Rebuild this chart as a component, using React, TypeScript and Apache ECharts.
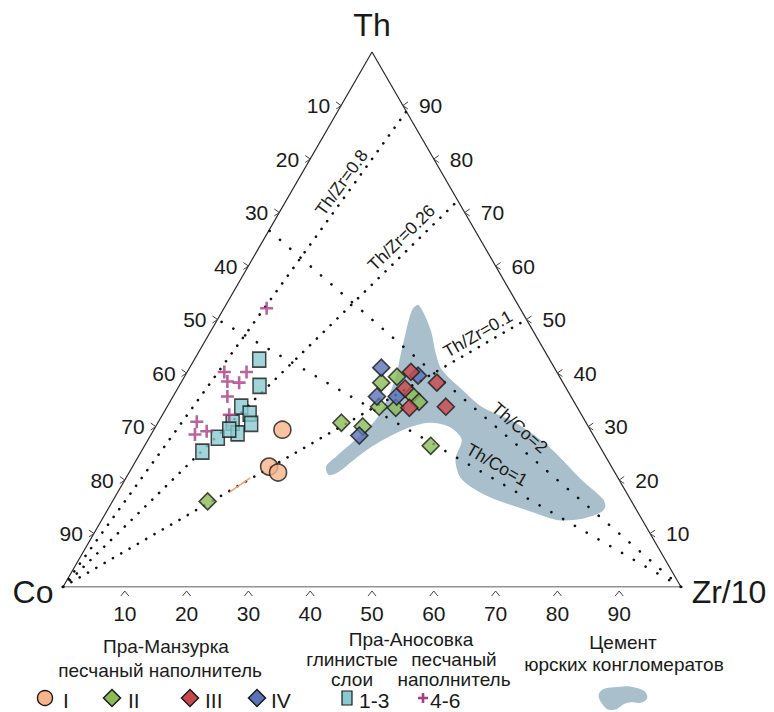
import React, { useEffect, useRef } from "react";
import * as echarts from "echarts";

// ---------- DATA (ternary, percent: [Co, Th, Zr/10]) ----------
// Пра-Манзурка, песчаный наполнитель
const groupI = [
  [49.8, 29.4, 20.8],
  [55.4, 22.5, 22.1],
  [54.5, 21.4, 24.1],
];
const groupII = [
  [68.6, 16.0, 15.4],
  [26.3, 39.3, 34.4],
  [29.4, 38.2, 32.4],
  [25.6, 35.9, 38.5],
  [25.1, 34.6, 40.3],
  [32.0, 33.7, 34.3],
  [29.4, 33.5, 37.1],
  [39.6, 30.7, 29.7],
  [36.5, 30.0, 33.5],
  [27.3, 26.4, 46.3],
];
const groupIII = [
  [23.6, 40.2, 36.2],
  [20.4, 38.2, 41.4],
  [26.1, 37.1, 36.8],
  [27.2, 33.5, 39.3],
  [21.2, 33.7, 45.1],
];
const groupIV = [
  [28.0, 41.0, 31.0],
  [22.8, 39.5, 37.7],
  [31.4, 35.6, 33.0],
  [28.2, 35.6, 36.2],
  [37.9, 28.3, 33.8],
];
// Пра-Аносовка: глинистые слои 1-3
const clayLayers = [
  [47.0, 42.5, 10.5],
  [49.4, 37.6, 13.0],
  [54.3, 33.7, 12.0],
  [53.6, 32.4, 14.0],
  [54.3, 30.5, 15.2],
  [57.2, 30.7, 12.1],
  [57.4, 28.7, 13.9],
  [61.0, 27.9, 11.1],
  [64.8, 25.3, 9.9],
  [58.4, 29.4, 12.2],
];
// Пра-Аносовка: песчаный наполнитель 4-6
const sandFill = [
  [41.0, 52.1, 6.9],
  [53.8, 40.2, 6.0],
  [50.2, 40.2, 9.6],
  [54.2, 38.4, 7.4],
  [52.4, 38.2, 9.4],
  [55.6, 35.6, 8.8],
  [57.0, 32.2, 10.8],
  [62.9, 30.9, 6.2],
  [64.4, 28.5, 7.1],
  [62.2, 29.1, 8.7],
];
// short orange trace on the Th/Zr=0.1 line
const orangeTrace = [
  [64.1, 17.8, 18.1],
  [59.5, 20.4, 20.1],
];
// Цемент юрских конгломератов: outline as [Th, Zr/10]
const cementOutline = [
  [52.7, 31.2], [48.0, 35.5], [43.8, 38.4], [40.6, 41.0], [36.9, 46.1],
  [33.7, 50.9], [30.7, 57.9], [26.3, 65.4], [20.1, 73.8], [16.4, 79.2],
  [15.1, 80.2], [14.0, 80.1], [12.7, 77.5], [12.5, 73.9], [13.8, 69.6],
  [16.9, 60.4], [20.1, 54.5], [23.8, 51.6], [27.6, 50.7], [30.0, 47.4],
  [30.7, 43.9], [29.8, 41.1], [28.1, 38.7], [26.3, 36.9], [23.8, 35.2],
  [21.6, 33.9], [20.9, 32.6], [22.5, 31.3], [24.4, 32.0], [27.6, 33.6],
  [31.3, 35.0], [35.0, 34.9], [39.3, 34.2], [43.8, 32.8], [47.5, 31.7],
  [51.8, 30.6],
];
const thZrRatios = [0.8, 0.26, 0.1];
const thCoRatios = [2, 1];
const tickValues = [10, 20, 30, 40, 50, 60, 70, 80, 90];

// ---------- STYLE ----------
const FONT = '"Liberation Sans", Arial, sans-serif';
const NARROW = '"Liberation Sans Narrow", "Arial Narrow", "Liberation Sans", sans-serif';
const C_PEACH = "#f8b48b";
const C_GREEN = "#8abb56";
const C_RED = "#c9494b";
const C_BLUE = "#5a73b8";
const C_TEAL = "#8acacf";
const C_MAGENTA = "#a53f82";
const C_CEMENT = "#a9bfcb";
const C_TEXT = "#1a1a1a";
const PLUS_PATH =
  "path://M5.2,0H7.8V5.2H13V7.8H7.8V13H5.2V7.8H0V5.2H5.2Z";
// label placement along ratio lines: [fraction from left end, offset px]
const thZrLabelPlace = [[0.837, 11], [0.88, 13], [0.908, 12]];
const thCoLabelPlace = [[0.585, 15], [0.588, 14]];

// ternary -> cartesian (x: 0..100, y: 0..100 with triangle height = y range)
const tern = (p: number[]) => [p[2] + p[1] / 2, p[1]];

function buildOption() {
  const dotted = (gap: number) => ({
    color: "#111",
    width: 2.6,
    type: [0.1, gap],
    cap: "round",
  });

  const ratioSeries: any[] = [];
  thZrRatios.forEach((r) => {
    const t = (100 * 10 * r) / (1 + 10 * r);
    ratioSeries.push({
      type: "line",
      data: [[0, 0], [100 - t / 2, t]],
      symbol: "none",
      silent: true,
      lineStyle: dotted(9.5),
      z: 3,
    });
  });
  thCoRatios.forEach((k) => {
    const t = (100 * k) / (1 + k);
    ratioSeries.push({
      type: "line",
      data: [[100, 0], [t / 2, t]],
      symbol: "none",
      silent: true,
      lineStyle: dotted(13.5),
      z: 3,
    });
  });

  const txt = (
    text: string,
    x: number,
    y: number,
    align: string,
    size: number,
    family = FONT,
    rotation = 0
  ) => ({
    type: "text",
    x,
    y,
    rotation,
    style: {
      text,
      fill: C_TEXT,
      fontSize: size,
      fontFamily: family,
      align,
      verticalAlign: "middle",
    },
  });
  const pl = (points: number[][]) => ({
    type: "polyline",
    shape: { points },
    style: { stroke: "#444", fill: "none", lineWidth: 1 },
  });

  const annotations = {
    type: "custom",
    silent: true,
    clip: false,
    z: 6,
    data: [[0, 0]],
    renderItem: (_p: any, api: any) => {
      const P = (x: number, y: number) => api.coord([x, y]);
      const children: any[] = [];
      tickValues.forEach((v) => {
        const th = 100 - v;
        const a = P(th / 2, th);
        children.push(pl([[a[0] - 5, a[1] - 3.5], [a[0], a[1]], [a[0] - 5, a[1] + 3.5]]));
        children.push(txt(String(v), a[0] - 11, a[1], "right", 21, NARROW));
        const b = P(100 - v / 2, v);
        children.push(pl([[b[0] + 5, b[1] - 3.5], [b[0], b[1]], [b[0] + 5, b[1] + 3.5]]));
        children.push(txt(String(v), b[0] + 16, b[1], "left", 21, NARROW));
        const c = P(v, 0);
        children.push(pl([[c[0] - 4, c[1] + 9], [c[0], c[1] + 4], [c[0] + 4, c[1] + 9]]));
        children.push(txt(String(v), c[0], c[1] + 26, "center", 21, NARROW));
      });
      const top = P(50, 100);
      const co = P(0, 0);
      const zr = P(100, 0);
      children.push(txt("Th", top[0], top[1] - 27, "center", 32));
      children.push(txt("Co", co[0] - 30, co[1] + 5, "center", 32));
      children.push(txt("Zr/10", zr[0] + 48, zr[1] + 5, "center", 32));

      const lineLabel = (
        text: string,
        s: number[],
        e: number[],
        place: number[]
      ) => {
        let p1 = P(s[0], s[1]);
        let p2 = P(e[0], e[1]);
        if (p2[0] < p1[0]) {
          const tmp = p1;
          p1 = p2;
          p2 = tmp;
        }
        const dx = p2[0] - p1[0];
        const dy = p2[1] - p1[1];
        const len = Math.hypot(dx, dy);
        const nx = dy / len;
        const ny = -dx / len;
        const [f, off] = place;
        const x = p1[0] + f * dx + off * nx;
        const y = p1[1] + f * dy + off * ny;
        children.push(txt(text, x, y, "center", 17.5, FONT, -Math.atan2(dy, dx)));
      };
      thZrRatios.forEach((r, i) => {
        const t = (100 * 10 * r) / (1 + 10 * r);
        lineLabel(`Th/Zr=${r}`, [0, 0], [100 - t / 2, t], thZrLabelPlace[i]);
      });
      thCoRatios.forEach((k, i) => {
        const t = (100 * k) / (1 + k);
        lineLabel(`Th/Co=${k}`, [100, 0], [t / 2, t], thCoLabelPlace[i]);
      });
      return { type: "group", children };
    },
  };

  const cement = {
    type: "custom",
    silent: true,
    clip: false,
    z: 1,
    data: [[0, 0]],
    renderItem: (_p: any, api: any) => ({
      type: "polygon",
      shape: {
        points: cementOutline.map(([th, zr]) => api.coord([zr + th / 2, th])),
        smooth: 0.3,
      },
      style: { fill: C_CEMENT },
    }),
  };

  const border = { borderColor: "#1a1a1a", borderWidth: 1.6 };
  const scatter = (name: string, data: number[][], symbol: string, size: any, color: string, withBorder = true) => ({
    type: "scatter",
    name,
    data: data.map(tern),
    symbol,
    symbolSize: size,
    itemStyle: withBorder ? { color, ...border } : { color },
    z: 5,
    silent: true,
  });

  // legend graphics
  const gText = (text: string, x: number, y: number, align = "center", size = 19, family = FONT) => ({
    type: "text",
    x,
    y,
    style: { text, fill: C_TEXT, fontSize: size, fontFamily: family, align, verticalAlign: "middle" },
  });
  const gDiamond = (cx: number, cy: number, color: string) => ({
    type: "polygon",
    shape: { points: [[cx, cy - 8.5], [cx + 8.5, cy], [cx, cy + 8.5], [cx - 8.5, cy]] },
    style: { fill: color, stroke: "#1a1a1a", lineWidth: 1.5 },
  });
  const ROW = 700;
  const MARK = 698;
  const legend = [
    gText("Пра-Манзурка", 166, 646),
    gText("песчаный наполнитель", 160, 670),
    { type: "circle", shape: { cx: 45, cy: MARK, r: 7.5 }, style: { fill: C_PEACH, stroke: "#1a1a1a", lineWidth: 1.4 } },
    gText("I", 63, ROW, "left", 21, NARROW),
    gDiamond(112, MARK, C_GREEN),
    gText("II", 128, ROW, "left", 21, NARROW),
    gDiamond(190, MARK, C_RED),
    gText("III", 205, ROW, "left", 21, NARROW),
    gDiamond(257, MARK, C_BLUE),
    gText("IV", 271, ROW, "left", 21, NARROW),
    gText("Пра-Аносовка", 411, 639.5),
    gText("глинистые", 352, 659.5),
    gText("песчаный", 454, 659.5),
    gText("слои", 352, 679.5),
    gText("наполнитель", 454, 679.5),
    { type: "rect", shape: { x: 342, y: MARK - 7, width: 10, height: 14 }, style: { fill: C_TEAL, stroke: "#1a1a1a", lineWidth: 1.2 } },
    gText("1-3", 359, ROW, "left", 21, NARROW),
    { type: "rect", shape: { x: 418, y: MARK - 1.3, width: 10, height: 2.6 }, style: { fill: C_MAGENTA } },
    { type: "rect", shape: { x: 421.7, y: MARK - 5, width: 2.6, height: 10 }, style: { fill: C_MAGENTA } },
    gText("4-6", 430, ROW, "left", 21, NARROW),
    gText("Цемент", 623, 642),
    gText("юрских конгломератов", 624, 664),
    {
      type: "polygon",
      shape: {
        points: [[600, 692], [617, 687], [637, 688], [647, 695], [643, 702], [627, 703], [613, 710], [603, 705]],
        smooth: 0.5,
      },
      style: { fill: C_CEMENT },
    },
  ];

  return {
    animation: false,
    backgroundColor: "#ffffff",
    grid: { left: 63, top: 52, width: 618, height: 535 },
    xAxis: { type: "value", min: 0, max: 100, show: false },
    yAxis: { type: "value", min: 0, max: 100, show: false },
    graphic: { elements: legend },
    series: [
      cement,
      {
        type: "line",
        data: [[0, 0], [100, 0], [50, 100], [0, 0]],
        symbol: "none",
        silent: true,
        lineStyle: { color: "#2a2a2a", width: 1.2 },
        z: 2,
      },
      ...ratioSeries,
      {
        type: "line",
        data: orangeTrace.map(tern),
        symbol: "none",
        silent: true,
        lineStyle: { color: "#f0a06c", width: 1.5 },
        z: 4,
      },
      scatter("1-3", clayLayers, "rect", [13, 15], C_TEAL),
      scatter("4-6", sandFill, PLUS_PATH, 13, C_MAGENTA, false),
      scatter("I", groupI, "circle", 17, C_PEACH),
      scatter("II", groupII, "diamond", 17, C_GREEN),
      scatter("IV", groupIV, "diamond", 17, C_BLUE),
      scatter("III", groupIII, "diamond", 17, C_RED),
      annotations,
    ],
  };
}

export default function App() {
  const ref = useRef<HTMLDivElement>(null);
  useEffect(() => {
    const chart = echarts.init(ref.current!, null, { renderer: "svg" });
    chart.setOption(buildOption() as any);
    return () => chart.dispose();
  }, []);
  return (
    <div
      ref={ref}
      style={{ position: "fixed", left: 0, top: 0, width: 774, height: 712, background: "#fff" }}
    />
  );
}
